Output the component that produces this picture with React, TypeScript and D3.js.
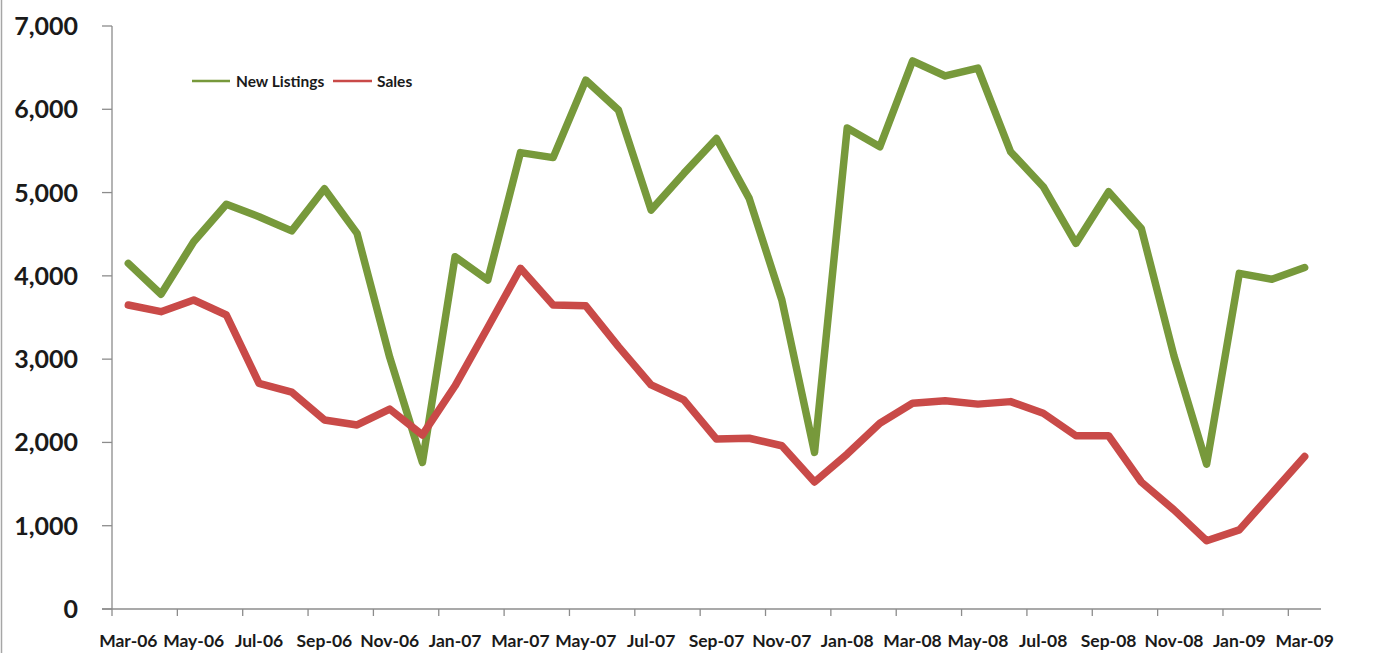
import React from "react";
import * as d3 from "d3";

const months: string[] = [
  "Mar-06","Apr-06","May-06","Jun-06","Jul-06","Aug-06","Sep-06","Oct-06","Nov-06","Dec-06",
  "Jan-07","Feb-07","Mar-07","Apr-07","May-07","Jun-07","Jul-07","Aug-07","Sep-07","Oct-07","Nov-07","Dec-07",
  "Jan-08","Feb-08","Mar-08","Apr-08","May-08","Jun-08","Jul-08","Aug-08","Sep-08","Oct-08","Nov-08","Dec-08",
  "Jan-09","Feb-09","Mar-09"
];

const newListings: number[] = [
  4150, 3780, 4410, 4860, 4710, 4540, 5045, 4510, 3020, 1760,
  4230, 3950, 5480, 5420, 6350, 5990, 4790, 5230, 5650, 4930, 3710, 1880,
  5775, 5550, 6580, 6400, 6495, 5490, 5070, 4390, 5010, 4570, 3040, 1740,
  4030, 3960, 4100
];

const sales: number[] = [
  3650, 3570, 3710, 3530, 2710, 2605, 2270, 2210, 2400, 2090,
  2680, 3380, 4090, 3650, 3640, 3150, 2690, 2510, 2040, 2050, 1960, 1525,
  1860, 2230, 2470, 2500, 2460, 2490, 2350, 2080, 2080, 1525, 1190, 820,
  950, 1390, 1830
];

const yTicks: number[] = [0, 1000, 2000, 3000, 4000, 5000, 6000, 7000];

const seriesNames = ["New Listings", "Sales"];
const seriesColors = ["#77993b", "#c94a48"];

export default function App() {
  const W = 1381, H = 653;
  const left = 112, right = 1321, top = 26, bottom = 609;

  const x = d3.scaleBand<string>().domain(months).range([left, right]).paddingInner(0).paddingOuter(0);
  const y = d3.scaleLinear().domain([0, 7000]).range([bottom, top]);
  const cx = (m: string) => (x(m) as number) + x.bandwidth() / 2;

  const line = d3.line<number>()
    .x((_, i) => cx(months[i]))
    .y((d) => y(d));

  const fmt = d3.format(",");
  const font = "Lato, 'Open Sans', sans-serif";
  const tickIdx = months.map((_, i) => i).filter((i) => i % 2 === 0);
  const axisColor = "#8c8c8c";

  return (
    <svg width={W} height={H} style={{ position: "absolute", left: 0, top: 0, background: "#fff" }}>
      <rect x={0} y={0} width={W} height={H} fill="#fff" />
      <line x1={1.5} x2={1.5} y1={0} y2={H} stroke="#a6a6a6" strokeWidth={1.5} />

      {/* y axis */}
      <line x1={left} x2={left} y1={top} y2={bottom} stroke={axisColor} strokeWidth={1.3} />
      {yTicks.map((t) => (
        <g key={t}>
          <line x1={left - 10} x2={left} y1={y(t)} y2={y(t)} stroke={axisColor} strokeWidth={1.3} />
          <text x={78} y={y(t)} dy="0.36em" textAnchor="end" fontFamily={font} fontWeight={700}
            fontSize={25} fill="#1a1a1a">{fmt(t)}</text>
        </g>
      ))}

      {/* x axis */}
      <line x1={left - 10} x2={right} y1={bottom} y2={bottom} stroke={axisColor} strokeWidth={1.3} />
      {tickIdx.map((i) => (
        <g key={i}>
          <line x1={x(months[i]) as number} x2={x(months[i]) as number} y1={bottom} y2={bottom + 7}
            stroke={axisColor} strokeWidth={1.3} />
          <text x={cx(months[i])} y={647} textAnchor="middle" fontFamily={font} fontWeight={700}
            fontSize={17.5} fill="#1a1a1a">{months[i]}</text>
        </g>
      ))}

      {/* lines */}
      {[newListings, sales].map((s, k) => (
        <path key={k} d={line(s) as string} fill="none" stroke={seriesColors[k]} strokeWidth={7.5}
          strokeLinejoin="round" strokeLinecap="round" />
      ))}

      {/* legend */}
      <g>
        <line x1={192} x2={230} y1={81} y2={81} stroke={seriesColors[0]} strokeWidth={2.5} />
        <text x={236} y={81} dy="0.36em" fontFamily={font} fontWeight={700} fontSize={15.5} fill="#1a1a1a">{seriesNames[0]}</text>
        <line x1={333} x2={372} y1={81} y2={81} stroke={seriesColors[1]} strokeWidth={2.5} />
        <text x={377} y={81} dy="0.36em" fontFamily={font} fontWeight={700} fontSize={15.5} fill="#1a1a1a">{seriesNames[1]}</text>
      </g>
    </svg>
  );
}
